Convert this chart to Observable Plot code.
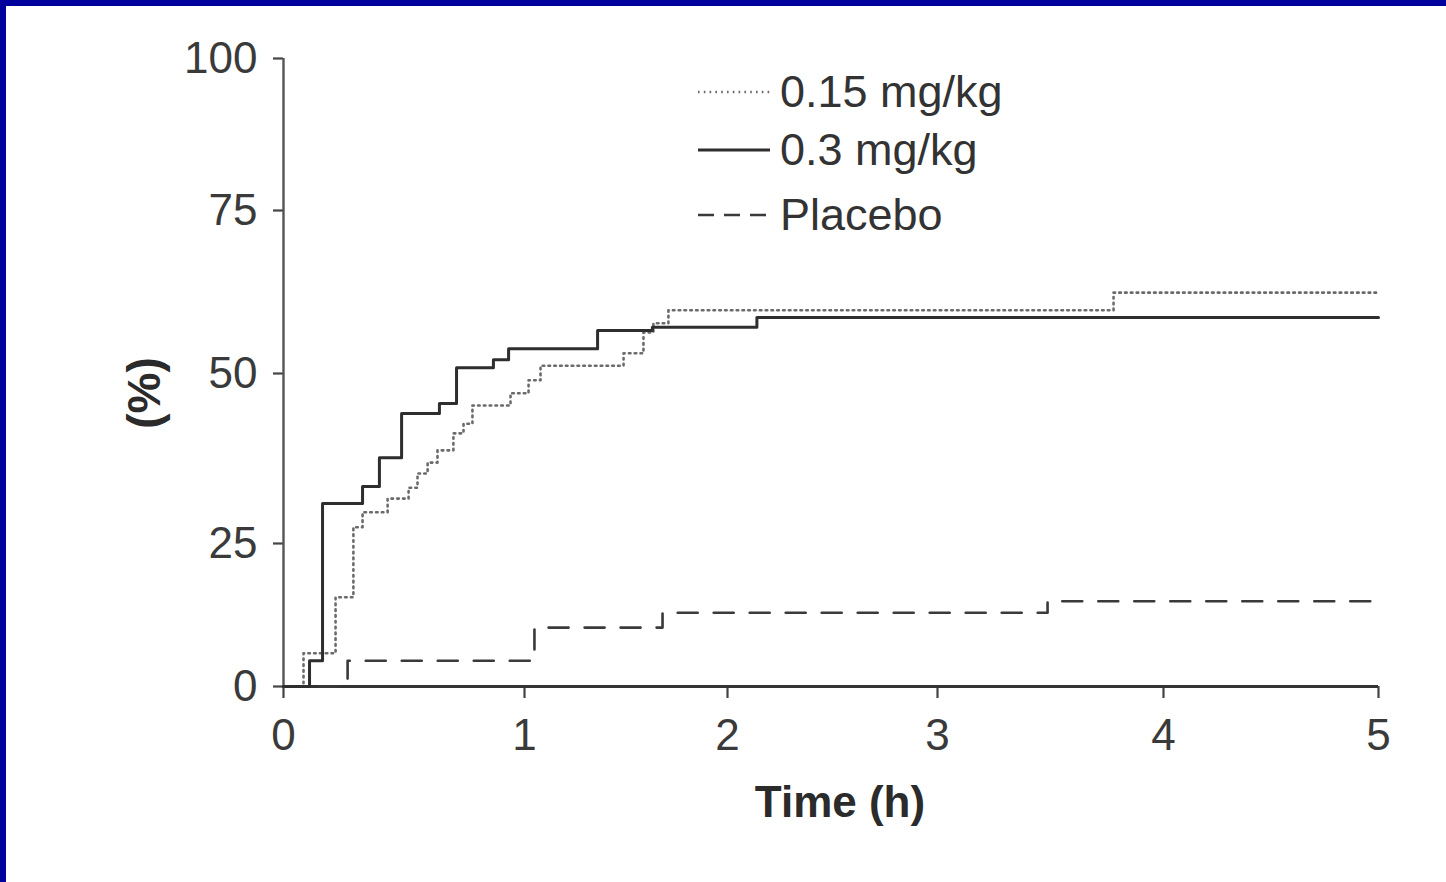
<!DOCTYPE html>
<html>
<head>
<meta charset="utf-8">
<script src="https://cdn.jsdelivr.net/npm/d3@7"></script>
<script src="https://cdn.jsdelivr.net/npm/@observablehq/plot@0.6"></script>
<style>
  html, body { margin: 0; padding: 0; background: #ffffff; }
  #wrap { position: relative; width: 1446px; height: 882px; overflow: hidden; background: #fff; font-family: "Liberation Sans", Arial, sans-serif; }
  #chart { position: absolute; left: 0; top: 0; }
  #overlay { position: absolute; left: 0; top: 0; pointer-events: none; }
  .bar-top { position: absolute; left: 0; top: 0; width: 1446px; height: 6px; background: #00009c; }
  .bar-left { position: absolute; left: 0; top: 0; width: 6px; height: 882px; background: #00009c; }
</style>
</head>
<body>
<div id="wrap">
  <div id="chart"></div>
  <svg id="overlay" width="1446" height="882"></svg>
  <div class="bar-top"></div>
  <div class="bar-left"></div>
</div>
<script>
// ---- data ----
const seriesNames = ["0.15 mg/kg", "0.3 mg/kg", "Placebo"];

const time015 = [0, 0.083, 0.216, 0.290, 0.328, 0.432, 0.519, 0.556, 0.598, 0.639, 0.705, 0.747, 0.784, 0.942, 1.02, 1.079, 1.488, 1.586, 1.635, 1.709, 3.779, 5];
const pct015  = [0, 5.8, 15.6, 27.4, 29.6, 31.6, 33.2, 35.3, 36.9, 38.7, 41.2, 42.6, 45.3, 47.1, 49.0, 51.2, 53.1, 56.3, 57.7, 59.7, 62.4, 62.4];

const time03 = [0, 0.108, 0.162, 0.328, 0.398, 0.490, 0.647, 0.718, 0.871, 0.934, 1.36, 1.63, 2.14, 5];
const pct03  = [0, 4.5, 30.9, 33.4, 37.6, 44.1, 45.6, 50.9, 52.1, 53.8, 56.6, 57.1, 58.6, 58.6];

const timePlacebo = [0, 0.266, 1.049, 1.68, 3.487, 5];
const pctPlacebo  = [0, 4.5, 10.3, 12.9, 14.9, 14.9];

const xTicks = [0, 1, 2, 3, 4, 5];
const yTicks = [0, 25, 50, 75, 100];
const xLabel = "Time (h)";
const yLabel = "(%)";

// ---- build tables ----
const toRows = (ts, ps, name) => ts.map((t, i) => ({time: t, pct: ps[i], series: name}));
const rows015 = toRows(time015, pct015, seriesNames[0]);
const rows03 = toRows(time03, pct03, seriesNames[1]);
const rowsPl = toRows(timePlacebo, pctPlacebo, seriesNames[2]);

const styles = {
  [seriesNames[0]]: {stroke: "#6a6a6a", strokeWidth: 2.6, dash: "1.6,4.2"},
  [seriesNames[1]]: {stroke: "#2e2e2e", strokeWidth: 3, dash: null},
  [seriesNames[2]]: {stroke: "#3a3a3a", strokeWidth: 2.6, dash: "20,16"}
};

const lineMark = (data, name) => Plot.line(data, {
  x: "time", y: "pct", curve: "step-after",
  stroke: styles[name].stroke, strokeWidth: styles[name].strokeWidth,
  strokeDasharray: styles[name].dash || undefined
});

const chart = Plot.plot({
  width: 1446,
  height: 882,
  marginLeft: 283, marginRight: 68, marginTop: 58, marginBottom: 196,
  style: {fontFamily: "'Liberation Sans', Arial, sans-serif", fontSize: "44px", color: "#3a3a3a", background: "transparent"},
  x: {type: "linear", domain: [0, 1, 2, 3, 4, 5], range: [283, 524, 727, 937, 1163, 1378]},
  y: {type: "linear", domain: [0, 25, 50, 75, 100], range: [686, 543, 373, 210, 58]},
  marks: [
    Plot.axisX({ticks: xTicks, tickFormat: d => String(d), tickSize: 12, tickPadding: 20, label: null, stroke: "#444", strokeWidth: 2.2, fill: "#3a3a3a"}),
    Plot.axisY({ticks: yTicks, tickFormat: d => String(d), tickSize: 10, tickPadding: 16, label: null, stroke: "#444", strokeWidth: 2.2, fill: "#3a3a3a"}),
    Plot.ruleX([0], {y1: 0, y2: 100, stroke: "#555", strokeWidth: 2.4}),
    Plot.ruleY([0], {x1: 0, x2: 5, stroke: "#333", strokeWidth: 3}),
    lineMark(rowsPl, seriesNames[2]),
    lineMark(rows015, seriesNames[0]),
    lineMark(rows03, seriesNames[1])
  ]
});
document.getElementById("chart").appendChild(chart);

// ---- overlay: axis titles and legend ----
const ov = d3.select("#overlay");
const textColor = "#2b2b2b";
ov.append("text")
  .attr("x", 840).attr("y", 817)
  .attr("text-anchor", "middle")
  .attr("font-family", "'Liberation Sans', Arial, sans-serif")
  .attr("font-size", 44).attr("font-weight", "bold")
  .attr("fill", textColor)
  .text(xLabel);
ov.append("text")
  .attr("transform", "translate(160,393) rotate(-90)")
  .attr("text-anchor", "middle")
  .attr("font-family", "'Liberation Sans', Arial, sans-serif")
  .attr("font-size", 46).attr("font-weight", "bold")
  .attr("fill", textColor)
  .text(yLabel);

const legendY = [92, 150, 215];
seriesNames.forEach((name, i) => {
  const s = styles[name];
  const ln = ov.append("line")
    .attr("x1", 698).attr("x2", 770)
    .attr("y1", legendY[i]).attr("y2", legendY[i])
    .attr("stroke", s.stroke).attr("stroke-width", s.strokeWidth);
  if (s.dash) ln.attr("stroke-dasharray", name === seriesNames[2] ? "16,10" : s.dash);
  ov.append("text")
    .attr("x", 780).attr("y", legendY[i] + 15)
    .attr("font-family", "'Liberation Sans', Arial, sans-serif")
    .attr("font-size", 45)
    .attr("fill", "#333")
    .text(name);
});
</script>
</body>
</html>
